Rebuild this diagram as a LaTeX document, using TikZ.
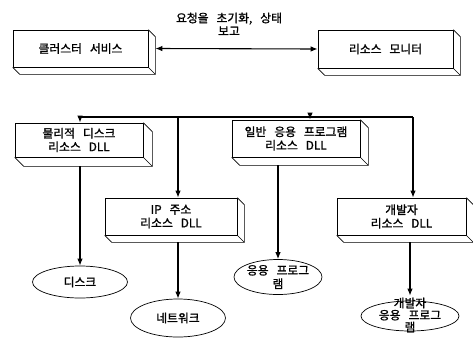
\documentclass[tikz,border=0pt]{standalone}
\usepackage{fontspec}
\setmainfont{Noto Sans CJK KR}[FakeBold=1.2,WordSpace=3]
\usetikzlibrary{shapes.geometric,arrows.meta,calc}
\newcommand\boxdepth[2]{%
  \draw[edge] (#1.north east) -- ++(#2,#2) -- ($(#1.south east)+(#2,#2)$) -- ($(#1.south west)+(#2,#2)$) -- (#1.south west);
  \draw[edge] (#1.south east) -- ++(#2,#2);}
\begin{document}
\begin{tikzpicture}[x=1pt,y=-1pt,
  font=\fontsize{11.8}{13.5}\selectfont,
  edge/.style={line width=0.7pt,line join=round},
  box/.style={draw,edge,inner sep=0pt,align=center,fill=white},
  oval/.style={draw,edge,ellipse,inner sep=0pt},
  wire/.style={line width=1.1pt},
  arr/.style={wire,-{Latex[length=7pt,width=5.5pt]}},
  darr/.style={wire,{Latex[length=7pt,width=5.5pt]}-{Latex[length=7pt,width=5.5pt]}}]
\useasboundingbox (0,0) rectangle (473,338);

% upper row
\node[box,minimum width=135pt,minimum height=37pt] (cs) at (80.5,48.5) {클러스터 서비스};
\boxdepth{cs}{7}
\node[box,minimum width=135pt,minimum height=38pt] (rm) at (385.5,49) {리소스 모니터};
\boxdepth{rm}{7}
\node[align=center,inner sep=0pt] (lbl) at (229,24) {요청을 초기화, 상태\\[-0.5pt]보고};
\draw[darr] ($(cs.east)+(7,0)$) -- (rm.west);

% DLL boxes
\node[box,minimum width=128pt,minimum height=34pt] (pd) at (79,140) {물리적 디스크\\리소스 DLL};
\boxdepth{pd}{9}
\node[box,minimum width=128pt,minimum height=37pt] (ga) at (296,138.5) {일반 응용 프로그램\\리소스 DLL};
\boxdepth{ga}{8}
\node[box,minimum width=132pt,minimum height=37pt] (ip) at (171,216.5) {IP 주소\\리소스 DLL};
\boxdepth{ip}{7}
\node[box,minimum width=129pt,minimum height=37pt] (dv) at (401.5,216.5) {개발자\\리소스 DLL};
\boxdepth{dv}{7}

% distribution bus
\coordinate (b1) at (80,117);
\coordinate (b2) at (178,117);
\coordinate (b3) at (310,117);
\coordinate (b4) at (413,117);
\draw[wire] (b1) -- (b4);
\draw[arr] (b1) -- (b1 |- pd.north);
\draw[arr] (b2) -- (b2 |- ip.north);
\draw[arr] (b3) -- (b3 |- ga.north);
\draw[arr] (b4) -- (b4 |- dv.north);

% resources
\node[oval,minimum width=95pt,minimum height=32pt,label={center:디스크}] (e1) at (80,282) {};
\node[oval,minimum width=95pt,minimum height=38pt,label={center:네트워크}] (e2) at (178,318) {};
\node[oval,minimum width=88pt,minimum height=35pt,label={[align=center]center:응용 프로그\\램}] (e3) at (278,277) {};
\node[oval,minimum width=98pt,minimum height=30pt,label={[align=center,yshift=1pt]center:개발자\\[-1.5pt]응용 프로그\\[-1.5pt]램}] (e4) at (410,316) {};

\draw[arr] ($(pd.south -| e1.north)+(0,9)$) -- (e1.north);
\draw[arr] ($(ip.south -| e2.north)+(0,7)$) -- (e2.north);
\draw[arr] ($(ga.south -| e3.north)+(0,8)$) -- (e3.north);
\draw[arr] ($(dv.south -| e4.north)+(0,7)$) -- ($(e4.north)+(0,-5)$);
\end{tikzpicture}
\end{document}
